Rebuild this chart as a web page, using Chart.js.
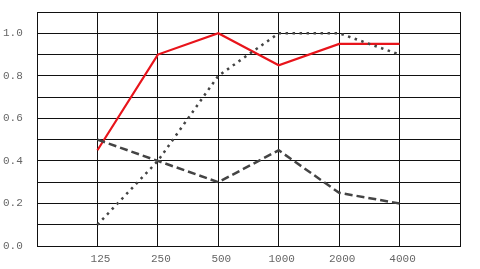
<!DOCTYPE html>
<html>
<head>
<meta charset="utf-8">
<script src="https://cdn.jsdelivr.net/npm/chart.js@4"></script>
<style>
  html, body { margin: 0; padding: 0; background: #fff; }
  #myChart { display: block; }
</style>
</head>
<body>
<canvas id="myChart" width="480" height="269"></canvas>
<script>
// frequency bands, blank at both ends for the empty margin columns
const categories = ['', '125', '250', '500', '1000', '2000', '4000', ''];
const redValues = [null, 0.45, 0.9, 1.0, 0.85, 0.95, 0.95, null];
const dashedValues = [null, 0.5, 0.4, 0.3, 0.45, 0.25, 0.2, null];
const dottedValues = [null, 0.1, 0.4, 0.8, 1.0, 1.0, 0.9, null];
const yTicks = [0.0, 0.2, 0.4, 0.6, 0.8, 1.0];

const tickFont = { family: "'Liberation Mono', 'DejaVu Sans Mono', monospace", size: 11 };

const config = {
    type: 'line',
    data: {
        labels: categories,
        datasets: [
            {
                data: dottedValues,
                borderColor: '#444444',
                borderWidth: 2.5,
                borderDash: [2.5, 4.5],
                pointRadius: 0,
                fill: false
            },
            {
                data: dashedValues,
                borderColor: '#444444',
                borderWidth: 2.5,
                borderDash: [8, 4],
                pointRadius: 0,
                fill: false
            },
            {
                data: redValues,
                borderColor: '#e8141b',
                borderWidth: 2.2,
                pointRadius: 0,
                fill: false
            }
        ]
    },
    options: {
        responsive: false,
        animation: false,
        layout: { padding: { top: 12, right: 20, left: 3, bottom: 0 } },
        plugins: {
            legend: { display: false },
            tooltip: { enabled: false }
        },
        scales: {
            x: {
                offset: false,
                grid: { color: '#111', lineWidth: 1, drawTicks: false },
                border: { color: '#111' },
                ticks: {
                    font: tickFont,
                    color: '#666',
                    padding: 6,
                    labelOffset: 3,
                    maxRotation: 0,
                    autoSkip: false
                },
                afterFit: function(scale) { scale.height = 23; }
            },
            y: {
                min: 0,
                max: 1.1,
                grid: { color: '#111', lineWidth: 1, drawTicks: false },
                border: { color: '#111' },
                afterBuildTicks: function(scale) {
                    const t = [];
                    for (let i = 0; i <= 11; i++) t.push({ value: i / 10 });
                    scale.ticks = t;
                },
                ticks: {
                    font: tickFont,
                    color: '#666',
                    crossAlign: 'far',
                    callback: function(v) {
                        const r = Math.round(v * 10) / 10;
                        return yTicks.some(t => Math.abs(t - r) < 1e-6) ? r.toFixed(1) : '';
                    }
                },
                afterFit: function(scale) { scale.width = 34; }
            }
        }
    }
};

const ctx = document.getElementById('myChart').getContext('2d');
new Chart(ctx, config);
</script>
</body>
</html>
